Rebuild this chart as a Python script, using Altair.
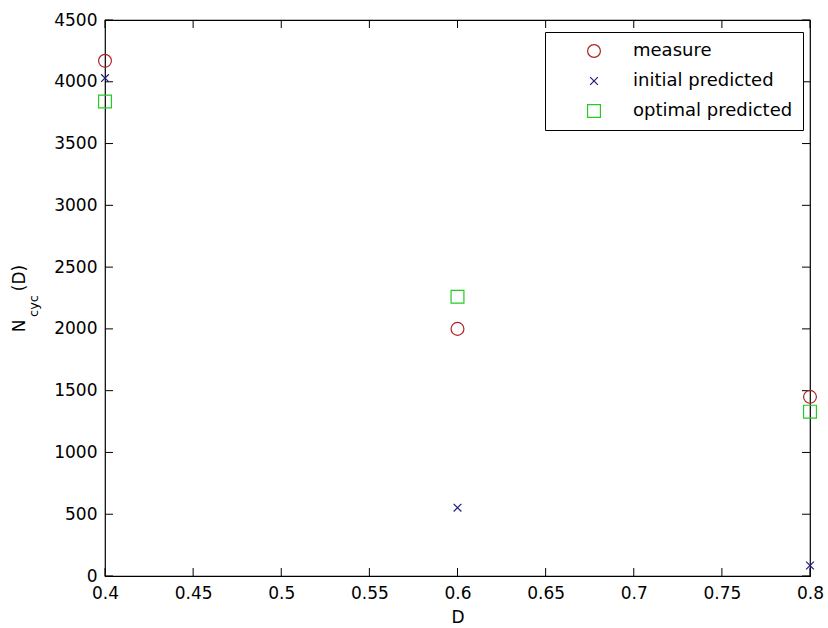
import altair as alt
import pandas as pd

# Fatigue-life data: cycles to failure N_cyc as a function of damage level D
D = [0.4, 0.6, 0.8]
measure = [4170, 2000, 1450]
initial_predicted = [4030, 553, 85]
optimal_predicted = [3840, 2260, 1330]

series_names = ["measure", "initial predicted", "optimal predicted"]
series_colors = ["#b22222", "#1c1c80", "#22cc22"]
series_shapes = ["circle", "M-0.6,-0.6L0.6,0.6M-0.6,0.6L0.6,-0.6", "square"]

x_ticks = [0.4, 0.45, 0.5, 0.55, 0.6, 0.65, 0.7, 0.75, 0.8]
y_ticks = [0, 500, 1000, 1500, 2000, 2500, 3000, 3500, 4000, 4500]

W, H = 705, 556
FONT = "DejaVu Sans"
TICK_LEN = 8
MARK_SIZE = 165

rows = []
for name, vals in zip(series_names, [measure, initial_predicted, optimal_predicted]):
    for d, v in zip(D, vals):
        rows.append({"D": d, "N": v, "series": name})
df = pd.DataFrame(rows)

xscale = alt.Scale(domain=[0.4, 0.8], nice=False, zero=False)
yscale = alt.Scale(domain=[0, 4500], nice=False, zero=False)

x_axis = alt.Axis(values=x_ticks, format="~g", title="D", grid=False,
                  domain=False, ticks=False, labelPadding=9, labelFlush=False,
                  labelFont=FONT, labelFontSize=17, labelColor="black",
                  titleFont=FONT, titleFontSize=17, titleFontWeight="normal",
                  titleColor="black", titlePadding=8)
y_axis = alt.Axis(values=y_ticks, format="d", title=None, grid=False,
                  domain=False, ticks=False, labelPadding=8, labelFlush=False,
                  labelFont=FONT, labelFontSize=17, labelColor="black")

legend = alt.Legend(
    title=None, orient="none", legendX=440, legendY=12,
    strokeColor="black", fillColor="white", padding=10,
    symbolOffset=30, labelOffset=30, rowPadding=12,
    labelFontSize=18, labelFont=FONT, labelColor="black",
    symbolSize=MARK_SIZE, symbolStrokeWidth=1.2,
)

xt = pd.DataFrame({"t": x_ticks})
yt = pd.DataFrame({"t": y_ticks})

# inward-pointing ticks on all four sides of the frame
bottom_ticks = alt.Chart(xt).mark_rule(color="black", strokeWidth=1).encode(
    x=alt.X("t:Q", scale=xscale, axis=x_axis), y=alt.value(H), y2=alt.value(H - TICK_LEN))
top_ticks = alt.Chart(xt).mark_rule(color="black", strokeWidth=1).encode(
    x=alt.X("t:Q", scale=xscale, axis=x_axis), y=alt.value(0), y2=alt.value(TICK_LEN))
left_ticks = alt.Chart(yt).mark_rule(color="black", strokeWidth=1).encode(
    y=alt.Y("t:Q", scale=yscale, axis=y_axis), x=alt.value(0), x2=alt.value(TICK_LEN))
right_ticks = alt.Chart(yt).mark_rule(color="black", strokeWidth=1).encode(
    y=alt.Y("t:Q", scale=yscale, axis=y_axis), x=alt.value(W), x2=alt.value(W - TICK_LEN))

points = alt.Chart(df).mark_point(filled=False, strokeWidth=1.2, opacity=1,
                                  size=MARK_SIZE).encode(
    x=alt.X("D:Q", scale=xscale, axis=x_axis),
    y=alt.Y("N:Q", scale=yscale, axis=y_axis),
    color=alt.Color("series:N", scale=alt.Scale(domain=series_names, range=series_colors),
                    legend=legend),
    shape=alt.Shape("series:N", scale=alt.Scale(domain=series_names, range=series_shapes),
                    legend=legend),
)

# y-axis title N_cyc(D) with a subscript, built from rotated text pieces
title_base = alt.Chart(pd.DataFrame({"k": [0]}))
t_n = title_base.mark_text(text="N", angle=270, font=FONT, fontSize=17, color="black",
                           align="center", baseline="middle").encode(
    x=alt.value(-85), y=alt.value(306))
t_cyc = title_base.mark_text(text="cyc", angle=270, font=FONT, fontSize=13, color="black",
                             align="center", baseline="middle").encode(
    x=alt.value(-71), y=alt.value(286))
t_d = title_base.mark_text(text="(D)", angle=270, font=FONT, fontSize=17, color="black",
                           align="center", baseline="middle").encode(
    x=alt.value(-85), y=alt.value(258))

chart = alt.layer(
    bottom_ticks, top_ticks, left_ticks, right_ticks, points, t_n, t_cyc, t_d
).properties(
    width=W, height=H,
    padding={"left": 105, "top": 20, "right": 18, "bottom": 52},
    autosize="none",
    background="white",
).configure_view(stroke="black", strokeWidth=1.2)

chart.save("out.html", embed_options={"renderer": "svg", "actions": False})
